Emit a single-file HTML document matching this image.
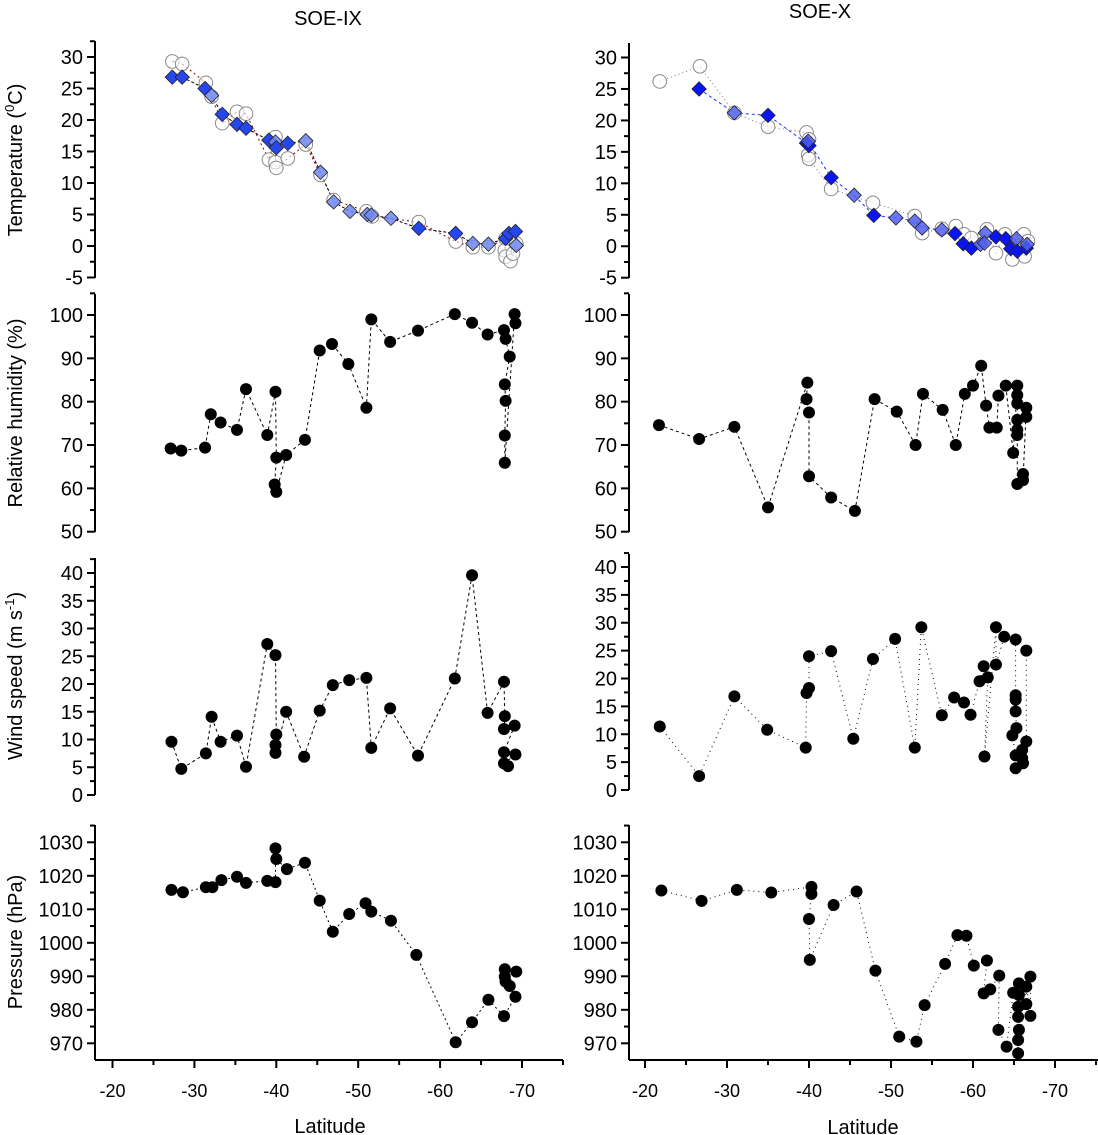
<!DOCTYPE html>
<html><head><meta charset="utf-8"><style>
body{margin:0;background:#fff;}
svg{display:block;font-family:"Liberation Sans",Arial,sans-serif;}
</style></head><body>
<svg id="chart" width="1098" height="1135" viewBox="0 0 1098 1135" xmlns="http://www.w3.org/2000/svg">
<text x="328" y="25" font-size="20" text-anchor="middle">SOE-IX</text>
<text x="820" y="18" font-size="20" text-anchor="middle">SOE-X</text>
<text transform="translate(22,160) rotate(-90)" font-size="20" text-anchor="middle">Temperature (<tspan dy="-8" font-size="13">0</tspan><tspan dy="8">C)</tspan></text>
<text transform="translate(22,413) rotate(-90)" font-size="20" text-anchor="middle">Relative humidity (%)</text>
<text transform="translate(22,676) rotate(-90)" font-size="20" text-anchor="middle">Wind speed (m s<tspan dy="-8" font-size="13">-1</tspan><tspan dy="8">)</tspan></text>
<text transform="translate(22,942) rotate(-90)" font-size="20" text-anchor="middle">Pressure (hPa)</text>
<text x="330" y="1133" font-size="20" text-anchor="middle">Latitude</text>
<text x="863" y="1134" font-size="20" text-anchor="middle">Latitude</text>
</svg>
<script>
// ---------- data ----------
const xTicks = [-20,-30,-40,-50,-60,-70];
const tempTicks = [30,25,20,15,10,5,0,-5];
const rhTicks = [100,90,80,70,60,50];
const windTicks = [40,35,30,25,20,15,10,5,0];
const presTicks = [1030,1020,1010,1000,990,980,970];

const L_tempDiaLat = [-27.3,-28.5,-31.3,-32.1,-33.4,-35.2,-36.3,-39.1,-39.9,-40.0,-41.4,-43.6,-45.4,-47.0,-49.0,-51.1,-51.6,-54.0,-57.4,-61.9,-64.0,-65.9,-68.0,-68.4,-69.2,-69.3];
const L_tempDiaVal = [26.8,26.8,25.0,23.9,20.9,19.3,18.7,16.8,16.5,15.6,16.3,16.7,11.7,7.0,5.5,5.0,4.9,4.4,2.8,2.0,0.4,0.3,1.2,2.0,2.3,0.1];
const L_tempDiaTone = [0,0,0,1,0,0,0,0,1,0,0,1,1,1,1,1,1,1,0,0,1,1,0,0,0,1];
const L_tempCirLat = [-27.3,-28.5,-31.4,-32.1,-33.4,-35.2,-36.3,-39.1,-39.9,-39.9,-40.0,-41.4,-43.6,-45.4,-47.0,-51.0,-51.7,-57.4,-61.9,-64.0,-65.9,-68.0,-67.9,-68.0,-68.6,-68.9,-69.3];
const L_tempCirVal = [29.3,28.9,25.9,23.7,19.5,21.3,21.0,13.7,17.3,13.3,12.4,13.9,16.1,11.3,7.3,5.5,4.7,3.8,0.7,-0.2,-0.2,1.2,-0.7,-1.7,-2.4,-1.2,0.4];

const R_tempDiaLat = [-26.6,-30.9,-35.0,-39.7,-40.0,-39.9,-42.7,-45.5,-47.9,-50.6,-52.9,-53.8,-56.2,-57.8,-58.8,-59.8,-60.9,-61.5,-61.4,-62.8,-64.0,-64.6,-65.3,-65.4,-66.5,-66.6];
const R_tempDiaVal = [25.0,21.2,20.8,16.4,16.0,16.7,10.9,8.1,4.9,4.5,4.0,2.9,2.6,2.0,0.4,-0.3,0.3,2.1,0.5,1.5,1.2,-0.4,1.2,-0.8,-0.3,0.3];
const R_tempDiaTone = [0,1,0,0,0,1,0,1,0,1,1,1,1,0,0,0,1,1,1,0,0,0,1,0,0,1];
const R_tempCirLat = [-21.8,-26.7,-30.9,-35.0,-39.7,-40.0,-39.9,-40.0,-42.7,-47.8,-52.9,-53.8,-56.2,-57.9,-58.9,-59.8,-61.7,-62.8,-63.9,-64.8,-66.2,-66.3,-65.4,-66.7];
const R_tempCirVal = [26.2,28.6,21.2,19.0,18.1,17.0,14.5,13.9,9.1,6.9,4.8,2.1,2.8,3.2,1.9,1.3,2.7,-1.1,1.9,-2.1,1.9,-1.6,-0.3,0.8];

const L_rhLat = [-27.1,-28.4,-31.3,-32.0,-33.2,-35.2,-36.3,-38.9,-39.9,-40.0,-39.8,-40.0,-41.2,-43.5,-45.3,-46.8,-48.8,-51.0,-51.6,-53.9,-57.3,-61.8,-63.9,-65.8,-67.8,-68.0,-68.5,-67.9,-68.0,-67.9,-67.9,-69.1,-69.2];
const L_rhVal = [69.2,68.7,69.4,77.1,75.2,73.5,82.9,72.3,82.3,67.1,60.9,59.2,67.7,71.2,91.8,93.3,88.7,78.6,99.0,93.8,96.4,100.2,98.2,95.5,96.5,94.5,90.4,84.0,80.2,72.2,65.9,100.2,98.1];
const R_rhLat = [-21.7,-26.6,-30.9,-35.0,-39.8,-39.7,-40.0,-40.0,-42.7,-45.6,-48.0,-50.7,-53.0,-53.9,-56.3,-57.9,-59.0,-60.0,-61.0,-61.6,-62.0,-62.9,-63.1,-64.0,-64.9,-65.4,-65.4,-65.4,-65.4,-65.4,-65.4,-65.4,-66.1,-66.1,-66.5,-66.5];
const R_rhVal = [74.6,71.4,74.2,55.6,84.4,80.6,77.5,62.8,57.9,54.8,80.6,77.7,70.0,81.8,78.1,70.0,81.8,83.7,88.3,79.1,74.0,74.0,81.4,83.7,68.2,83.7,81.5,79.6,75.8,73.5,72.3,61.0,63.3,61.9,78.6,76.5];

const L_windLat = [-27.2,-28.4,-31.4,-32.1,-33.2,-35.2,-36.3,-38.9,-39.9,-40.0,-39.9,-39.9,-41.2,-43.4,-45.3,-46.9,-48.9,-51.0,-51.6,-53.9,-57.3,-61.8,-63.9,-65.8,-67.8,-67.9,-67.8,-69.1,-67.8,-69.2,-67.8,-68.3];
const L_windVal = [9.6,4.7,7.5,14.1,9.6,10.7,5.1,27.2,25.2,10.9,9.0,7.6,15.0,6.9,15.2,19.8,20.7,21.1,8.5,15.6,7.1,21.0,39.6,14.8,20.4,14.2,11.9,12.5,7.7,7.3,5.7,5.2];
const R_windLat = [-21.8,-26.6,-30.9,-34.9,-39.6,-39.7,-40.0,-40.0,-42.7,-45.4,-47.8,-50.5,-52.9,-53.7,-56.2,-57.7,-58.9,-59.7,-60.8,-61.3,-61.8,-61.4,-62.8,-62.8,-63.8,-65.2,-65.2,-65.2,-65.2,-65.3,-64.8,-65.2,-65.2,-66.0,-66.0,-66.1,-66.5,-66.5];
const R_windVal = [11.4,2.5,16.8,10.8,7.6,17.4,18.3,24.0,24.9,9.2,23.5,27.1,7.6,29.2,13.4,16.6,15.7,13.5,19.5,22.2,20.2,6.0,29.2,22.5,27.5,27.0,17.0,16.2,14.1,11.1,9.8,6.2,3.9,7.2,5.7,4.8,8.7,25.0];

const L_presLat = [-27.2,-28.6,-31.4,-32.2,-33.3,-35.2,-36.3,-38.9,-39.9,-39.9,-40.0,-41.3,-43.5,-45.3,-46.9,-48.9,-50.9,-51.6,-54.0,-57.1,-61.9,-63.9,-65.9,-67.8,-69.2,-68.5,-67.9,-69.3,-67.9,-68.0];
const L_presVal = [1015.8,1015.1,1016.6,1016.6,1018.7,1019.7,1017.9,1018.5,1018.1,1028.2,1025.0,1022.0,1023.9,1012.6,1003.3,1008.6,1011.8,1009.3,1006.6,996.4,970.3,976.3,983.0,978.1,983.9,987.1,992.1,991.4,989.9,988.4];
const R_presLat = [-22.0,-26.9,-31.2,-35.4,-40.3,-40.3,-40.0,-40.1,-43.0,-45.8,-48.1,-51.0,-53.1,-54.1,-56.6,-58.1,-59.2,-60.1,-61.7,-61.3,-62.1,-63.2,-63.1,-64.1,-64.9,-65.6,-65.6,-65.5,-65.5,-65.6,-65.5,-65.5,-66.5,-66.5,-67.0,-67.0];
const R_presVal = [1015.6,1012.5,1015.8,1015.0,1016.7,1014.6,1007.1,994.9,1011.3,1015.3,991.7,972.0,970.5,981.4,993.7,1002.3,1002.1,993.2,994.7,984.9,986.1,990.2,974.0,969.0,985.1,987.9,984.4,980.9,977.9,974.0,971.0,967.0,986.9,981.7,989.9,978.2];

// ---------- drawing ----------
const NS = "http://www.w3.org/2000/svg";
const svg = document.getElementById('chart');
function mk(tag, attrs){ const e=document.createElementNS(NS,tag); for(const k in attrs) e.setAttribute(k,attrs[k]); svg.appendChild(e); return e; }
function xL(lat){ return 112.5 + (-20 - lat) * 8.19; }
function xR(lat){ return 645 + (-20 - lat) * 8.2; }
function yScale(v0, y0, v1, y1){ return v => y0 + (v - v0) * (y1 - y0) / (v1 - v0); }

const panels = [
 {key:'temp', ticks:tempTicks, minor:2.5, left:{ys:yScale(30,57,-5,277.5), top:41, bot:278}, right:{ys:yScale(30,57.5,-5,277.7), top:43, bot:278}},
 {key:'humidity', ticks:rhTicks, minor:5, left:{ys:yScale(100,315,50,531.7), top:294, bot:532}, right:{ys:yScale(100,315,50,531.7), top:294, bot:532}},
 {key:'wind', ticks:windTicks, minor:2.5, left:{ys:yScale(40,573,0,795), top:558, bot:795}, right:{ys:yScale(40,567,0,790), top:554, bot:790}},
 {key:'pressure', ticks:presTicks, minor:5, left:{ys:yScale(1030,842.3,970,1043.3), top:825, bot:1060}, right:{ys:yScale(1030,842.3,970,1043.3), top:825, bot:1060}}
];

function drawYAxis(side, p){
  const ax = side==='left' ? 95 : 629;
  const cfg = p[side];
  const line = mk('line',{x1:ax,y1:cfg.top,x2:ax,y2:cfg.bot,stroke:'#000','stroke-width':2});
  
  
  const tmin = Math.min(...p.ticks), tmax = Math.max(...p.ticks);
  for(let v=tmin; v<=tmax+p.minor*1.5; v+=p.minor){
    const y = cfg.ys(v);
    if(y < cfg.top-1) break;
    const isMajor = p.ticks.some(t=>Math.abs(t-v)<1e-6);
    const tk = mk('line',{x1:ax-(isMajor?8:5),y1:y,x2:ax,y2:y,stroke:'#000','stroke-width':2});
    
    
  }
  p.ticks.forEach(t=>{
    const tx = mk('text',{x:ax-12,y:cfg.ys(t)+7,'font-size':20,'text-anchor':'end'});
    tx.textContent = t;
    
    
  });
}
panels.forEach(p=>{ drawYAxis('left',p); drawYAxis('right',p); });

function drawXAxis(side){
  const xs = side==='left'?xL:xR;
  const x0 = side==='left'?95:629, x1 = side==='left'?563:1098;
  const line = mk('line',{x1:x0,y1:1060,x2:x1,y2:1060,stroke:'#000','stroke-width':2});
  
  
  for(let lat=-20; lat>=-75; lat-=5){
    const x = xs(lat);
    if(x>x1) break;
    const major = lat%10===0;
    const tk = mk('line',{x1:x,y1:1060,x2:x,y2:1060+(major?8:5),stroke:'#000','stroke-width':2});
    
    
  }
  xTicks.forEach(t=>{
    const tx = mk('text',{x:xs(t),y:1097,'font-size':18,'text-anchor':'middle'});
    tx.textContent = t;
    
    
  });
}
drawXAxis('left'); drawXAxis('right');

function drawLine(lats, vals, xs, ys, stroke, dash, name){
  const d = lats.map((l,i)=>(i?'L':'M')+xs(l).toFixed(1)+','+ys(vals[i]).toFixed(1)).join(' ');
  const p = mk('path',{d:d,fill:'none',stroke:stroke,'stroke-width':1,'stroke-dasharray':dash});
  
  
}
function drawDots(lats, vals, xs, ys, name){
  lats.forEach((l,i)=>{
    const c = mk('circle',{cx:xs(l),cy:ys(vals[i]),r:6,fill:'#000'});
    
    
  });
}
function drawOpen(lats, vals, xs, ys, name){
  lats.forEach((l,i)=>{
    const c = mk('circle',{cx:xs(l),cy:ys(vals[i]),r:6.8,fill:'rgba(255,255,255,0.6)',stroke:'#8a8a8a','stroke-width':1});
    
    
  });
}
function drawDiamonds(lats, vals, tones, xs, ys, dark, light, name){
  lats.forEach((l,i)=>{
    const x=xs(l), y=ys(vals[i]), h=7.2;
    const d = mk('path',{d:`M${x},${y-h} L${x+h},${y} L${x},${y+h} L${x-h},${y} Z`,fill:tones[i]?light:dark,stroke:'#222','stroke-width':0.8});
    
    
  });
}

// temperature
const tL = panels[0].left.ys, tR = panels[0].right.ys;
drawLine(L_tempCirLat, L_tempCirVal, xL, tL, '#8b0000', '2,3', 'left-temp-air-line');
drawLine(L_tempDiaLat, L_tempDiaVal, xL, tL, '#000', '3,2', 'left-temp-sea-line');
drawOpen(L_tempCirLat, L_tempCirVal, xL, tL, 'left-temp-air-point');
drawDiamonds(L_tempDiaLat, L_tempDiaVal, L_tempDiaTone, xL, tL, '#2646ee', 'rgba(110,135,240,0.85)', 'left-temp-sea-point');
drawLine(R_tempCirLat, R_tempCirVal, xR, tR, '#777', '1,3', 'right-temp-air-line');
drawLine(R_tempDiaLat, R_tempDiaVal, xR, tR, '#1030ff', '3,3', 'right-temp-sea-line');
drawOpen(R_tempCirLat, R_tempCirVal, xR, tR, 'right-temp-air-point');
drawDiamonds(R_tempDiaLat, R_tempDiaVal, R_tempDiaTone, xR, tR, '#0a14f5', 'rgba(80,95,240,0.85)', 'right-temp-sea-point');

// humidity
drawLine(L_rhLat, L_rhVal, xL, panels[1].left.ys, '#000', '3,3', 'left-humidity-line');
drawDots(L_rhLat, L_rhVal, xL, panels[1].left.ys, 'left-humidity-point');
drawLine(R_rhLat, R_rhVal, xR, panels[1].right.ys, '#000', '3,3', 'right-humidity-line');
drawDots(R_rhLat, R_rhVal, xR, panels[1].right.ys, 'right-humidity-point');
// wind
drawLine(L_windLat, L_windVal, xL, panels[2].left.ys, '#000', '3,3', 'left-wind-line');
drawDots(L_windLat, L_windVal, xL, panels[2].left.ys, 'left-wind-point');
drawLine(R_windLat, R_windVal, xR, panels[2].right.ys, '#000', '1,4', 'right-wind-line');
drawDots(R_windLat, R_windVal, xR, panels[2].right.ys, 'right-wind-point');
// pressure
drawLine(L_presLat, L_presVal, xL, panels[3].left.ys, '#000', '2,3', 'left-pressure-line');
drawDots(L_presLat, L_presVal, xL, panels[3].left.ys, 'left-pressure-point');
drawLine(R_presLat, R_presVal, xR, panels[3].right.ys, '#000', '1,4', 'right-pressure-line');
drawDots(R_presLat, R_presVal, xR, panels[3].right.ys, 'right-pressure-point');
</script>
</body></html>
